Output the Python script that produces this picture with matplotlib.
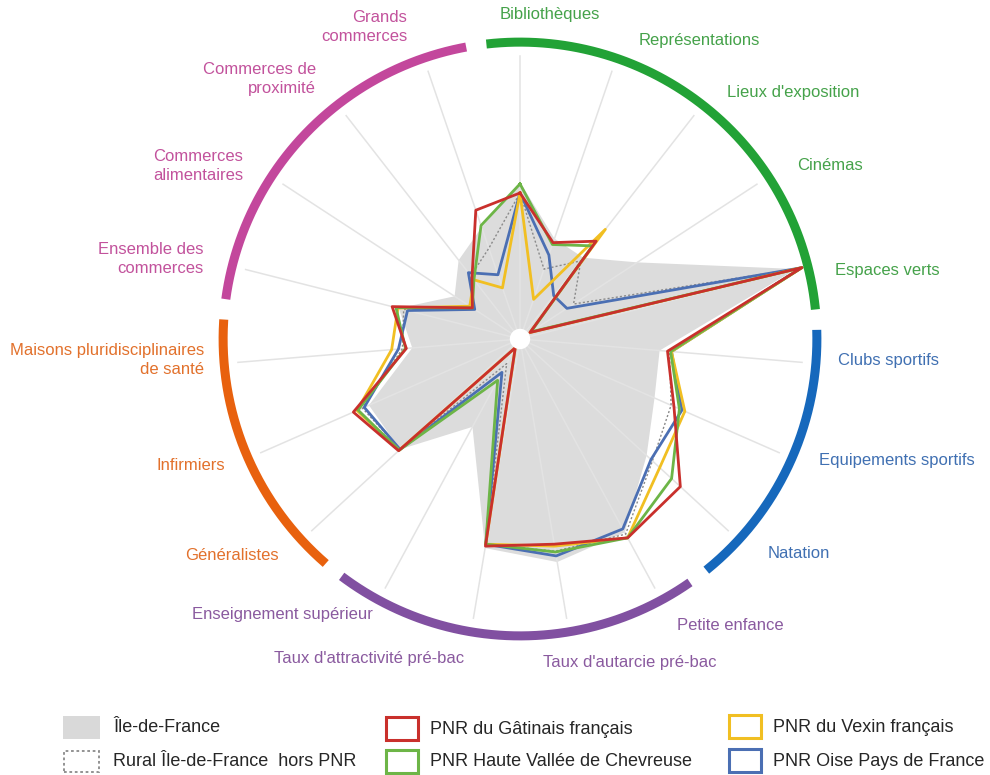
import numpy as np
import matplotlib.pyplot as plt
from matplotlib.patches import Rectangle

# axes of the radar (clockwise from the top)
categories = ["Bibliothèques", "Représentations", "Lieux d'exposition", "Cinémas",
              "Espaces verts", "Clubs sportifs", "Equipements sportifs", "Natation",
              "Petite enfance", "Taux d'autarcie pré-bac", "Taux d'attractivité pré-bac",
              "Enseignement supérieur", "Généralistes", "Infirmiers",
              "Maisons pluridisciplinaires\nde santé", "Ensemble des\ncommerces",
              "Commerces\nalimentaires", "Commerces de\nproximité", "Grands\ncommerces"]

# index values (100 = end of the spoke)
idf      = [55.5, 37.5, 36.4, 49.5, 100.7, 49.5, 51.9, 60.8, 77.7, 79.9, 74.9, 35.3, 57.6, 58.3, 38.2, 44.2, 27.6, 35.3, 41.7]
rural    = [51.6, 26.1, 35.0, 22.6, 101.8, 53.0, 58.3, 63.6, 78.4, 76.0, 73.5, 9.9, 57.6, 60.8, 41.7, 42.4, 19.4, 28.3, 33.9]
gatinais = [51.6, 36.0, 43.8, 4.2, 102.8, 52.3, 59.4, 77.0, 79.9, 73.5, 74.2, 3.5, 58.3, 64.3, 40.3, 46.6, 20.1, 27.6, 48.1]
chevreuse = [54.8, 35.3, 41.7, 4.6, 102.8, 53.4, 61.5, 72.8, 79.9, 76.3, 73.5, 16.6, 58.0, 62.5, 40.6, 45.2, 20.1, 26.5, 42.4]
vexin    = [51.6, 14.8, 49.1, 4.2, 102.8, 53.7, 63.6, 67.1, 79.9, 74.2, 73.5, 3.5, 58.0, 62.9, 45.5, 44.5, 21.2, 26.5, 19.1]
oise     = [51.6, 31.4, 19.4, 19.8, 102.5, 53.7, 62.5, 62.9, 76.3, 77.7, 73.5, 13.4, 57.6, 60.1, 43.1, 41.0, 19.1, 29.7, 24.0]

# themes: first and last axis index of each group
groups = [(0, 4), (5, 7), (8, 11), (12, 14), (15, 18)]
group_colors = ["#22a236", "#1668bc", "#8150a1", "#e8610e", "#c3479c"]
label_colors = ["#45a24a", "#4070b2", "#8a5a9f", "#e2712c", "#c2529c"]

series_names = ["PNR du Gâtinais français", "PNR Haute Vallée de Chevreuse",
                "PNR du Vexin français", "PNR Oise Pays de France"]
series_colors = ["#c9302c", "#6db547", "#f1bf22", "#4b6fb3"]

n = len(categories)
angles_deg = np.arange(n) * 360 / n
angles = np.radians(angles_deg)
closed = np.append(angles, angles[0])


def close(v):
    return np.append(v, v[0])


fig = plt.figure(figsize=(9.9, 7.75), dpi=100)
plt.rcParams['font.family'] = ['Liberation Sans', 'DejaVu Sans']

# center at (520, 339) px, radius 300 px
ax = fig.add_axes([220 / 990, (775 - 339 - 300) / 775, 600 / 990, 600 / 775], projection='polar')
ax.set_theta_zero_location('N')
ax.set_theta_direction(-1)
ax.set_ylim(0, 106)
ax.axis('off')

# Ile-de-France area
ax.fill(closed, close(idf), color='#dcdcdc', lw=0, zorder=1)

# spokes
for a in angles:
    ax.plot([a, a], [0, 100], color='#e3e3e3', lw=1.1, zorder=2)

# rural dotted line
ax.plot(closed, close(rural), color='#8a8a8a', lw=1.0, ls=(0, (1.5, 1.5)), zorder=3)

# PNR lines (red on top)
all_series = [gatinais, chevreuse, vexin, oise]
for vals, col, z in zip(all_series[::-1], series_colors[::-1], [4, 5, 6, 7]):
    ax.plot(closed, close(vals), color=col, lw=2.0, zorder=z)

# white center
t = np.linspace(0, 2 * np.pi, 100)
ax.fill(t, np.full_like(t, 3.6), color='white', lw=0, zorder=10)

# coloured ring by theme
for (g0, g1), col in zip(groups, group_colors):
    th = np.radians(np.linspace(angles_deg[g0] - 6.5, angles_deg[g1] + 8.5, 200))
    ax.plot(th, np.full_like(th, 104.9), color=col, lw=6.5, solid_capstyle='butt',
            clip_on=False, zorder=8)

# axis labels (pixel positions)
label_pos = [(550, 15, 'center'), (699, 40, 'center'), (793, 93, 'center'), (830, 166, 'center'),
             (887, 271, 'center'), (889, 361, 'center'), (897, 461, 'center'), (799, 554, 'center'),
             (730, 626, 'center'), (630, 662, 'center'), (369, 659, 'center'), (282, 615, 'center'),
             (232, 555, 'center'), (191, 465, 'center'), (204, 360, 'right'), (204, 259, 'right'),
             (243, 166, 'right'), (316, 79, 'right'), (407, 27, 'right')]

for i, (lab, (x, y, ha)) in enumerate(zip(categories, label_pos)):
    gi = [k for k, (g0, g1) in enumerate(groups) if g0 <= i <= g1][0]
    fig.text(x / 990, 1 - y / 775, lab, ha=ha, va='center', ma=ha if ha != 'center' else 'center',
             fontsize=12, color=label_colors[gi], linespacing=1.3)

# legend
def box(x, y, w, h, **kw):
    fig.add_artist(Rectangle((x / 990, 1 - (y + h) / 775), w / 990, h / 775,
                             transform=fig.transFigure, **kw))

box(63, 716, 37, 23, facecolor='#d9d9d9', edgecolor='none')
fig.text(113 / 990, 1 - 728 / 775, "Île-de-France", fontsize=13, va='center', color='#262626')
box(64, 751, 35, 21, facecolor='none', edgecolor='#8a8a8a', lw=1.3, ls=(0, (1.5, 1.5)))
fig.text(113 / 990, 1 - 761 / 775, "Rural Île-de-France  hors PNR", fontsize=13, va='center', color='#262626')

leg_pos = [(386, 717), (386, 750), (729, 715), (729, 749)]
for name, col, (x, y) in zip(series_names, series_colors, leg_pos):
    box(x, y, 32, 23, facecolor='none', edgecolor=col, lw=2.2)
    fig.text((x + 44) / 990, 1 - (y + 12) / 775, name, fontsize=13, va='center', color='#262626')

fig.savefig("out.png", dpi=100, facecolor='white')
